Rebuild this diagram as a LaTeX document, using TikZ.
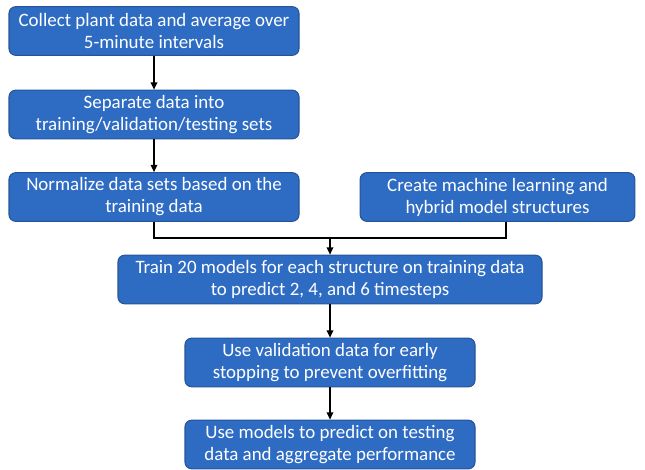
\documentclass[tikz,border=0pt]{standalone}
\usepackage{fontspec}
\setmainfont{Carlito}
\usetikzlibrary{arrows.meta}
\definecolor{boxblue}{RGB}{46,108,196}
\definecolor{boxedge}{RGB}{38,84,150}

\begin{document}
\begin{tikzpicture}[x=0.75pt,y=0.75pt,yscale=-1,xscale=1,
  stepbox/.style={draw=boxedge,line width=0.8pt,fill=boxblue,rounded corners=5pt,
    text=white,align=center,inner sep=0pt,minimum height=36.5pt,
    font=\fontsize{14.2}{16.5}\selectfont},
  arr/.style={line width=1.1pt,-{Triangle[length=5.5pt,width=5pt]}},
  ln/.style={line width=1.1pt}]
\useasboundingbox (0,0) rectangle (645,470);

% Boxes
\node [stepbox,minimum width=217.5pt] (collect) at (154,31) {Collect plant data and average over\\5-minute intervals};
\node [stepbox,minimum width=217.5pt] (separate) at (154,114.5) {Separate data into\\training/validation/testing sets};
\node [stepbox,minimum width=217.5pt] (normalize) at (154,197) {Normalize data sets based on the\\training data};
\node [stepbox,minimum width=206pt] (create) at (497.5,197) {Create machine learning and\\hybrid model structures};
\node [stepbox,minimum width=318pt] (train) at (330,279.5) {Train 20 models for each structure on training data\\to predict 2, 4, and 6 timesteps};
\node [stepbox,minimum width=217.5pt] (validate) at (330,362.5) {Use validation data for early\\stopping to prevent overfitting};
\node [stepbox,minimum width=217.5pt] (predict) at (330,444.5) {Use models to predict on testing\\data and aggregate performance};

% Join point
\coordinate (join) at (330,238);
\coordinate (createout) at ([xshift=6.4pt]create.south);

% Connectors
\draw [arr] (collect) -- (separate);
\draw [arr] (separate) -- (normalize);
\draw [ln] (normalize.south) |- (join);
\draw [ln] (createout) |- (join);
\draw [arr] (join) -- (train);
\draw [arr] (train) -- (validate);
\draw [arr] (validate) -- (predict);

\end{tikzpicture}
\end{document}
